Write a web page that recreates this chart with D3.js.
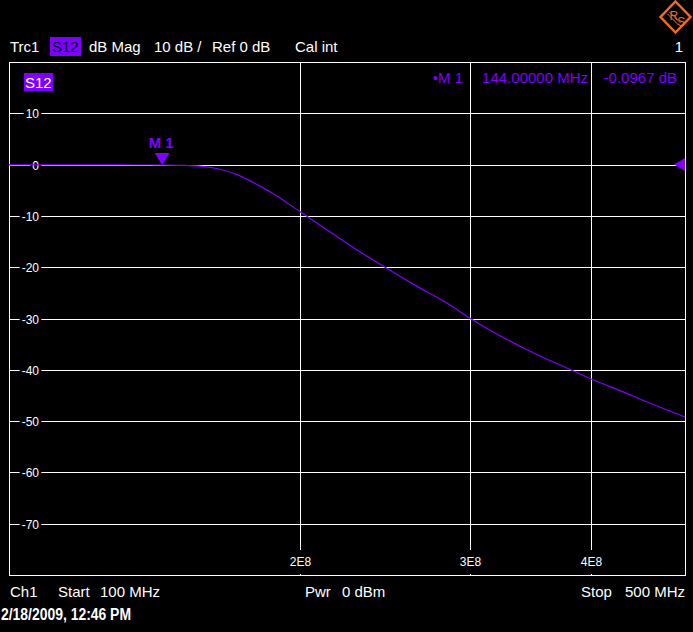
<!DOCTYPE html>
<html>
<head>
<meta charset="utf-8">
<script src="https://cdn.jsdelivr.net/npm/d3@7"></script>
<style>
  html, body { margin: 0; padding: 0; background: #000; }
  svg { display: block; }
  text { font-family: "Liberation Sans", Arial, sans-serif; }
</style>
</head>
<body>
<div id="chart"></div>
<script>
'use strict';

// trace data: frequency (MHz) vs S12 magnitude (dB)
var freqMHz = [100, 110, 120, 130, 140, 144, 150.3, 157.6, 165.3, 173.3, 181.8, 190.6,
	200, 214.7, 230.6, 244.8, 261.7, 283.7, 300, 343.2, 383, 400, 435.5, 449.2, 500];
var s12dB = [-0.05, -0.05, -0.06, -0.07, -0.08, -0.0967, -0.15, -0.3, -0.9, -2.2, -4.2, -6.5,
	-9.2, -13.1, -17, -20, -23.3, -27.0, -30, -36.1, -40.2, -41.8, -44.6, -45.7, -49.2];

// axis ticks
var yTicks = [10, 0, -10, -20, -30, -40, -50, -60, -70];
var xTicks = [200, 300, 400];
var xTickLabels = ['2E8', '3E8', '4E8'];

// marker
var markerFreq = 144;
var markerValue = -0.0967;

(function() {
	var width = 693, height = 632;
	var plotLeft = 9, plotRight = 685, plotTop = 62, plotBottom = 575;
	var purple = '#7f00ff';

	var svg = d3.select('#chart').append('svg')
		.attr('width', width)
		.attr('height', height);

	svg.append('rect').attr('width', width).attr('height', height).attr('fill', '#000');

	// scales
	var xScale = d3.scaleLog().domain([100, 500]).range([plotLeft, plotRight]);
	var yScale = d3.scaleLinear().domain([-80, 20]).range([plotBottom, plotTop]);

	var grid = svg.append('g').attr('class', 'grid');

	// horizontal grid lines
	grid.selectAll('line.h').data(yTicks).enter().append('line')
		.attr('class', 'h')
		.attr('x1', plotLeft).attr('x2', plotRight)
		.attr('y1', function(d) { return Math.round(yScale(d)) + 0.5; })
		.attr('y2', function(d) { return Math.round(yScale(d)) + 0.5; })
		.attr('stroke', '#fff').attr('stroke-width', 1);

	// vertical grid lines
	grid.selectAll('line.v').data(xTicks).enter().append('line')
		.attr('class', 'v')
		.attr('x1', function(d) { return Math.round(xScale(d)) + 0.5; })
		.attr('x2', function(d) { return Math.round(xScale(d)) + 0.5; })
		.attr('y1', plotTop).attr('y2', plotBottom)
		.attr('stroke', '#fff').attr('stroke-width', 1);

	// frame
	svg.append('rect')
		.attr('x', plotLeft + 0.5).attr('y', plotTop + 0.5)
		.attr('width', plotRight - plotLeft).attr('height', plotBottom - plotTop)
		.attr('fill', 'none').attr('stroke', '#fff').attr('stroke-width', 1);

	// labels with black background cut into the grid
	var labelWithGap = function(g, txt, x, y, anchor, size, padX, padY) {
		var t = g.append('text')
			.attr('x', x).attr('y', y)
			.attr('text-anchor', anchor)
			.attr('font-size', size)
			.attr('fill', '#fff')
			.text(txt);
		var bb = t.node().getBBox();
		g.insert('rect', function() { return t.node(); })
			.attr('x', bb.x - padX).attr('y', bb.y - padY)
			.attr('width', bb.width + 2 * padX).attr('height', bb.height + 2 * padY)
			.attr('fill', '#000');
	};

	var yLabels = svg.append('g').attr('class', 'y-labels');
	yTicks.forEach(function(d) {
		labelWithGap(yLabels, String(d), 39, Math.round(yScale(d)) + 4.5, 'end', 12, 2, -3);
	});

	var xLabels = svg.append('g').attr('class', 'x-labels');
	xTicks.forEach(function(d, i) {
		labelWithGap(xLabels, xTickLabels[i], Math.round(xScale(d)) + 0.5, 566, 'middle', 12, 3, 5);
	});

	// trace
	var line = d3.line()
		.x(function(d, i) { return xScale(freqMHz[i]); })
		.y(function(d) { return yScale(d); })
		.curve(d3.curveMonotoneX);

	svg.append('path')
		.datum(s12dB)
		.attr('d', line)
		.attr('fill', 'none')
		.attr('stroke', purple)
		.attr('stroke-width', 1.2);

	// marker M1
	var mx = xScale(markerFreq), my = yScale(markerValue);
	svg.append('path')
		.attr('d', 'M' + (mx - 7.5) + ',' + (my - 12) + 'L' + (mx + 7.5) + ',' + (my - 12) + 'L' + mx + ',' + my + 'Z')
		.attr('fill', purple);
	svg.append('text')
		.attr('x', mx - 1).attr('y', 148)
		.attr('text-anchor', 'middle')
		.attr('font-size', 15).attr('font-weight', 'bold')
		.attr('fill', purple)
		.text('M 1');

	// reference level arrow on the right
	var ry = yScale(0);
	svg.append('path')
		.attr('d', 'M' + plotRight + ',' + (ry - 6.5) + 'L' + plotRight + ',' + (ry + 6.5) + 'L' + (plotRight - 11) + ',' + ry + 'Z')
		.attr('fill', purple);

	// marker readout
	var readout = svg.append('g').attr('font-size', 15).attr('fill', purple).attr('text-anchor', 'end');
	readout.append('text').attr('x', 463).attr('y', 83).text('\u2022M 1');
	readout.append('text').attr('x', 588).attr('y', 83).text('144.00000 MHz');
	readout.append('text').attr('x', 677).attr('y', 83).text('-0.0967 dB');

	// trace label inside the diagram
	svg.append('rect').attr('x', 24).attr('y', 73).attr('width', 29).attr('height', 18).attr('fill', purple);
	svg.append('text').attr('x', 25).attr('y', 88).attr('font-size', 15).attr('fill', '#fff').text('S12');

	// header line
	var header = svg.append('g').attr('font-size', 15).attr('fill', '#fff');
	header.append('text').attr('x', 10).attr('y', 52).text('Trc1');
	header.append('rect').attr('x', 50).attr('y', 37).attr('width', 31).attr('height', 19).attr('fill', purple);
	header.append('text').attr('x', 52).attr('y', 52).attr('fill', '#000').text('S12');
	header.append('text').attr('x', 89).attr('y', 52).text('dB Mag');
	header.append('text').attr('x', 154).attr('y', 52).text('10 dB /');
	header.append('text').attr('x', 212).attr('y', 52).text('Ref 0 dB');
	header.append('text').attr('x', 295).attr('y', 52).text('Cal int');
	header.append('text').attr('x', 683).attr('y', 52).attr('text-anchor', 'end').text('1');

	// footer line
	var footer = svg.append('g').attr('font-size', 15).attr('fill', '#fff');
	footer.append('text').attr('x', 10).attr('y', 597).text('Ch1');
	footer.append('text').attr('x', 58).attr('y', 597).text('Start');
	footer.append('text').attr('x', 100).attr('y', 597).text('100 MHz');
	footer.append('text').attr('x', 305).attr('y', 597).text('Pwr');
	footer.append('text').attr('x', 342).attr('y', 597).text('0 dBm');
	footer.append('text').attr('x', 581).attr('y', 597).text('Stop');
	footer.append('text').attr('x', 685).attr('y', 597).attr('text-anchor', 'end').text('500 MHz');

	// timestamp
	svg.append('text')
		.attr('x', 1).attr('y', 620)
		.attr('font-size', 16).attr('font-weight', 'bold')
		.attr('textLength', 130).attr('lengthAdjust', 'spacingAndGlyphs')
		.attr('fill', '#fff')
		.text('2/18/2009, 12:46 PM');

	// R&S logo
	var orange = '#f26a22';
	var logo = svg.append('g').attr('transform', 'translate(675.5,17)');
	logo.append('path')
		.attr('d', 'M0,-15.5L15,0L0,15.5L-15,0Z')
		.attr('fill', 'none').attr('stroke', orange).attr('stroke-width', 2.5);
	logo.append('path')
		.attr('d', 'M-8,-3L3,8M-6,-5L5,6')
		.attr('stroke', orange).attr('stroke-width', 1);
	var logoText = logo.append('text').attr('x', -6).attr('y', 3).attr('font-size', 12).attr('fill', orange);
	logoText.append('tspan').text('R');
	logoText.append('tspan').attr('dx', -1).attr('dy', 6).text('S');
})();
</script>
</body>
</html>
